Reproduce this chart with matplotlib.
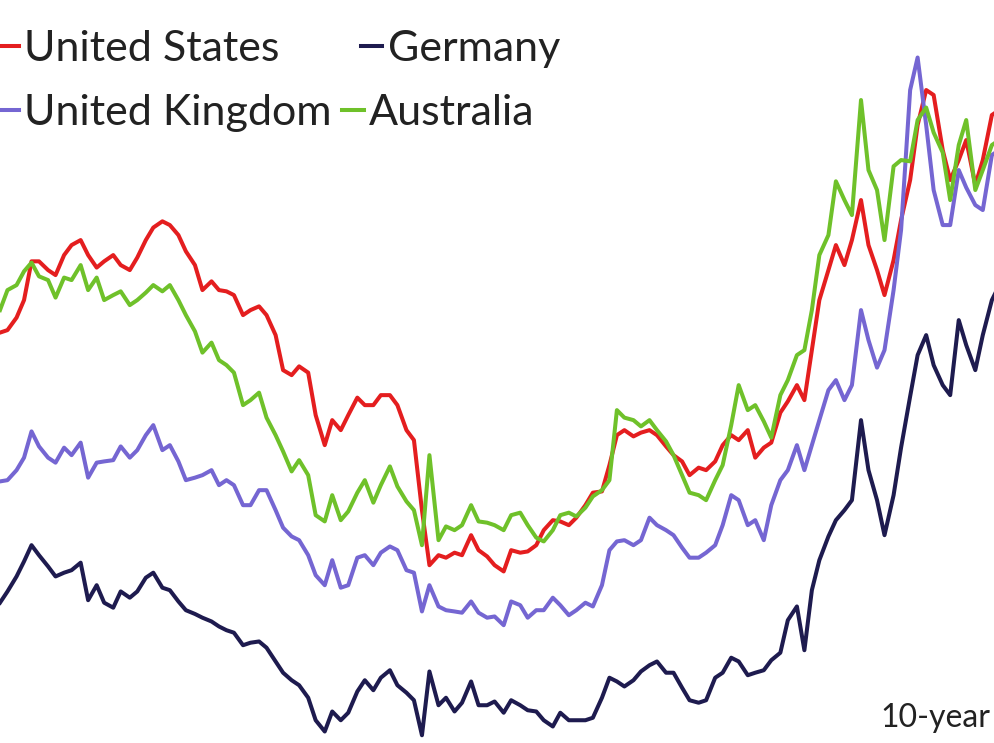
import matplotlib
matplotlib.use("Agg")
import matplotlib.pyplot as plt
import pandas as pd

# 10-year government bond yields (%), twice a month from Jan 2018
dates = pd.date_range("2018-01-01", periods=124, freq="SMS")

us = [2.41, 2.43, 2.53, 2.67, 2.98, 2.98, 2.91, 2.87, 3.03, 3.11,
      3.15, 3.03, 2.93, 2.98, 3.03, 2.95, 2.91, 3.01, 3.15, 3.25,
      3.30, 3.27, 3.19, 3.06, 2.95, 2.75, 2.82, 2.75, 2.74, 2.71,
      2.55, 2.59, 2.62, 2.55, 2.39, 2.11, 2.07, 2.14, 2.09, 1.75,
      1.51, 1.71, 1.63, 1.75, 1.89, 1.83, 1.83, 1.91, 1.91, 1.83,
      1.63, 1.55, 0.99, 0.55, 0.63, 0.61, 0.65, 0.63, 0.79, 0.67,
      0.62, 0.55, 0.50, 0.67, 0.65, 0.66, 0.71, 0.83, 0.91, 0.90,
      0.87, 0.93, 1.03, 1.13, 1.14, 1.35, 1.59, 1.63, 1.58, 1.61,
      1.63, 1.59, 1.50, 1.43, 1.38, 1.27, 1.33, 1.31, 1.38, 1.51,
      1.59, 1.55, 1.63, 1.41, 1.49, 1.53, 1.77, 1.86, 1.99, 1.87,
      2.27, 2.67, 2.91, 3.11, 2.95, 3.15, 3.47, 3.11, 2.91, 2.71,
      2.99, 3.31, 3.63, 4.07, 4.35, 4.31, 3.87, 3.63, 3.79, 3.95,
      3.59, 3.79, 4.15, 4.19]

uk = [1.22, 1.23, 1.31, 1.41, 1.62, 1.50, 1.41, 1.37, 1.49, 1.43,
      1.53, 1.25, 1.37, 1.38, 1.39, 1.50, 1.41, 1.47, 1.59, 1.67,
      1.47, 1.51, 1.38, 1.23, 1.25, 1.27, 1.31, 1.19, 1.23, 1.19,
      1.03, 1.03, 1.15, 1.15, 0.99, 0.85, 0.78, 0.75, 0.63, 0.47,
      0.39, 0.59, 0.37, 0.39, 0.61, 0.63, 0.55, 0.65, 0.70, 0.67,
      0.51, 0.49, 0.18, 0.39, 0.22, 0.19, 0.18, 0.17, 0.26, 0.17,
      0.13, 0.14, 0.07, 0.26, 0.23, 0.13, 0.19, 0.19, 0.29, 0.23,
      0.15, 0.19, 0.25, 0.22, 0.39, 0.67, 0.74, 0.75, 0.71, 0.75,
      0.93, 0.87, 0.83, 0.79, 0.69, 0.61, 0.61, 0.65, 0.71, 0.87,
      1.11, 1.07, 0.87, 0.91, 0.75, 1.03, 1.23, 1.31, 1.51, 1.31,
      1.51, 1.71, 1.95, 2.03, 1.87, 1.99, 2.59, 2.35, 2.13, 2.27,
      2.75, 3.23, 4.35, 4.61, 4.07, 3.55, 3.27, 3.27, 3.71, 3.57,
      3.43, 3.39, 3.83, 3.87]

germany = [0.25, 0.34, 0.46, 0.58, 0.71, 0.63, 0.54, 0.46, 0.49, 0.51,
           0.57, 0.27, 0.39, 0.25, 0.21, 0.34, 0.29, 0.34, 0.45, 0.49,
           0.37, 0.35, 0.26, 0.19, 0.16, 0.13, 0.10, 0.06, 0.03, 0.01,
           -0.09, -0.07, -0.06, -0.11, -0.22, -0.31, -0.37, -0.41, -0.51, -0.69,
           -0.78, -0.62, -0.69, -0.63, -0.46, -0.37, -0.45, -0.35, -0.29, -0.41,
           -0.47, -0.53, -0.81, -0.30, -0.57, -0.51, -0.62, -0.55, -0.38, -0.57,
           -0.57, -0.54, -0.63, -0.53, -0.57, -0.61, -0.62, -0.69, -0.74, -0.63,
           -0.69, -0.69, -0.69, -0.67, -0.51, -0.35, -0.38, -0.42, -0.37, -0.30,
           -0.25, -0.22, -0.31, -0.31, -0.43, -0.53, -0.55, -0.53, -0.35, -0.31,
           -0.19, -0.22, -0.33, -0.31, -0.29, -0.21, -0.15, 0.11, 0.22, -0.13,
           0.35, 0.59, 0.78, 0.91, 0.99, 1.07, 1.71, 1.31, 1.07, 0.79,
           1.11, 1.49, 1.90, 2.23, 2.39, 2.15, 1.99, 1.91, 2.51, 2.31,
           2.11, 2.39, 2.67, 2.79]

australia = [2.59, 2.75, 2.79, 2.90, 2.97, 2.86, 2.83, 2.69, 2.85, 2.83,
             2.95, 2.75, 2.85, 2.67, 2.71, 2.74, 2.63, 2.67, 2.73, 2.79,
             2.74, 2.79, 2.67, 2.55, 2.42, 2.25, 2.33, 2.19, 2.15, 2.09,
             1.83, 1.87, 1.93, 1.73, 1.59, 1.46, 1.30, 1.39, 1.27, 0.95,
             0.90, 1.11, 0.91, 0.98, 1.13, 1.23, 1.05, 1.19, 1.34, 1.18,
             1.06, 0.99, 0.71, 1.43, 0.75, 0.86, 0.83, 0.87, 1.03, 0.90,
             0.89, 0.87, 0.83, 0.95, 0.97, 0.87, 0.77, 0.74, 0.83, 0.95,
             0.97, 0.94, 1.01, 1.10, 1.15, 1.23, 1.79, 1.73, 1.71, 1.66,
             1.71, 1.63, 1.54, 1.43, 1.27, 1.13, 1.11, 1.07, 1.23, 1.35,
             1.67, 1.99, 1.79, 1.83, 1.70, 1.57, 1.91, 2.03, 2.23, 2.27,
             2.59, 3.03, 3.19, 3.62, 3.47, 3.35, 4.27, 3.71, 3.55, 3.15,
             3.74, 3.79, 3.78, 4.11, 4.21, 4.01, 3.85, 3.47, 3.91, 4.11,
             3.55, 3.71, 3.91, 3.95]

fig = plt.figure(figsize=(9.94, 7.43), dpi=100)
ax = fig.add_axes([0, 0, 1, 1])

lw = 2.9
l_us, = ax.plot(dates, us, color="#e41e1f", lw=lw, label="United States")
l_uk, = ax.plot(dates, uk, color="#7566d2", lw=lw, label="United Kingdom")
l_de, = ax.plot(dates, germany, color="#1e1b4f", lw=lw, label="Germany")
l_au, = ax.plot(dates, australia, color="#6fc12a", lw=lw, label="Australia", zorder=2.5)

ax.set_xlim(pd.Timestamp("2018-01-01"), pd.Timestamp("2023-02-05"))
ax.set_ylim(-0.872, 5.07)
ax.axis("off")

# legend is laid out as two rows that flow independently
leg_kw = dict(loc="upper left", ncol=2, frameon=False,
              prop={"family": "Lato", "size": 31}, handlelength=0.5,
              handletextpad=0.12, borderaxespad=0, borderpad=0,
              labelcolor="#222222")
leg1 = ax.legend([l_us, l_de], ["United States", "Germany"],
                 bbox_to_anchor=(-0.003, 0.96), columnspacing=1.9, **leg_kw)
ax.add_artist(leg1)
ax.legend([l_uk, l_au], ["United Kingdom", "Australia"],
          bbox_to_anchor=(-0.003, 0.874), columnspacing=0.25, **leg_kw)

ax.text(0.996, 0.022, "10-year", transform=ax.transAxes, fontsize=23,
        family="Lato", color="#222222", ha="right")

fig.savefig("out.png", dpi=100)
